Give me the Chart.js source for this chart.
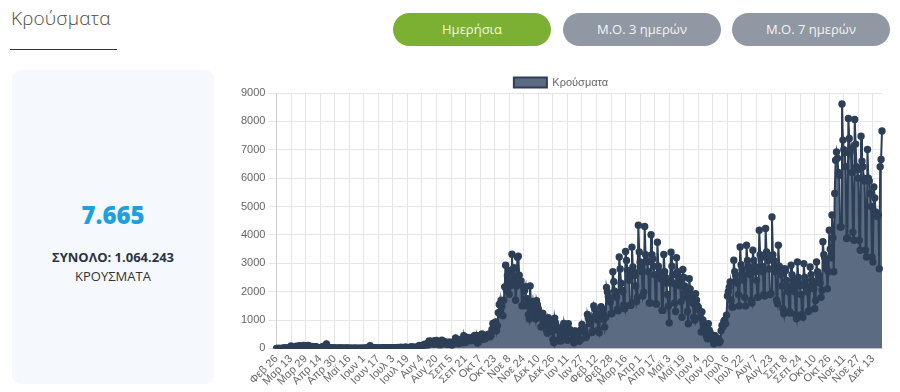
<!DOCTYPE html>
<html lang="el">
<head>
<meta charset="utf-8">
<title>Κρούσματα</title>
<script src="https://cdn.jsdelivr.net/npm/chart.js@4.4.1/dist/chart.umd.min.js"></script>
<style>
    body { margin: 0; width: 900px; height: 392px; background: #fff; font-family: "Open Sans", Arial, sans-serif; overflow: hidden; position: relative; }
    .title { position: absolute; left: 11px; top: 5px; font-size: 19px; font-weight: 300; color: #4a4a4a; letter-spacing: 0.2px; }
    .title-line { position: absolute; left: 10px; top: 49px; width: 107px; height: 1px; background: #333; }
    .btn { position: absolute; top: 13px; height: 33px; width: 158px; border-radius: 17px; color: #f4f4f4; font-size: 13px; line-height: 33px; text-align: center; }
    .btn.active { background: #7cb032; }
    .btn.off { background: #8f98a3; }
    .card { position: absolute; left: 12px; top: 70px; width: 202px; height: 314px; background: #f5f8fc; border-radius: 9px; text-align: center; }
    .card .num { position: absolute; left: 0; right: 0; top: 128px; font-size: 24px; font-weight: 800; color: #1ea0dd; }
    .card .total { position: absolute; left: 0; right: 0; top: 178px; font-size: 13px; font-weight: 700; color: #2b3445; }
    .card .lbl { position: absolute; left: 0; right: 0; top: 197px; font-size: 13px; color: #333; }
    .chart-box { position: absolute; left: 238px; top: 64px; width: 650px; height: 328px; }
</style>
</head>
<body>
<div class="title">Κρούσματα</div>
<div class="title-line"></div>
<div class="btn active" style="left:393px">Ημερήσια</div>
<div class="btn off" style="left:563px">Μ.Ο. 3 ημερών</div>
<div class="btn off" style="left:732px">Μ.Ο. 7 ημερών</div>
<div class="card">
    <div class="num">7.665</div>
    <div class="total">ΣΥΝΟΛΟ: 1.064.243</div>
    <div class="lbl">ΚΡΟΥΣΜΑΤΑ</div>
</div>
<div class="chart-box"><canvas id="casesChart" width="650" height="328"></canvas></div>
<script>
// tick labels, one every 16 days starting 26 Feb 2020
const tickLabels = ['Φεβ 26', 'Μαρ 13', 'Μαρ 29', 'Απρ 14', 'Απρ 30', 'Μαϊ 16', 'Ιουν 1', 'Ιουν 17',
    'Ιουλ 3', 'Ιουλ 19', 'Αυγ 4', 'Αυγ 20', 'Σεπ 5', 'Σεπ 21', 'Οκτ 7', 'Οκτ 23', 'Νοε 8', 'Νοε 24',
    'Δεκ 10', 'Δεκ 26', 'Ιαν 11', 'Ιαν 27', 'Φεβ 12', 'Φεβ 28', 'Μαρ 16', 'Απρ 1', 'Απρ 17', 'Μαϊ 3',
    'Μαϊ 19', 'Ιουν 4', 'Ιουν 20', 'Ιουλ 6', 'Ιουλ 22', 'Αυγ 7', 'Αυγ 23', 'Σεπ 8', 'Σεπ 24', 'Οκτ 10',
    'Οκτ 26', 'Νοε 11', 'Νοε 27', 'Δεκ 13'];
const tickEvery = 16;

// daily cases 26 Feb 2020 - 31 Dec 2020 (rows are Mon..Sun weeks)
const cases2020 = [
    1, 2, 0, 4, 0,
    0, 0, 2, 22, 14, 13, 7,
    7, 16, 10, 9, 91, 38, 10,
    21, 56, 31, 77, 31, 48, 94,
    71, 74, 78, 71, 102, 75, 95,
    60, 73, 102, 82, 64, 60, 71,
    21, 62, 20, 60, 50, 38, 25,
    29, 25, 25, 32, 73, 10, 12,
    17, 156, 16, 10, 11, 30, 12,
    9, 14, 15, 19, 10, 3, 8,
    10, 15, 12, 5, 10, 14, 2,
    4, 8, 15, 10, 10, 3, 8,
    5, 0, 3, 11, 5, 10, 4,
    11, 1, 3, 7, 5, 0, 9,
    1, 8, 15, 7, 5, 6, 5,
    97, 4, 3, 15, 4, 26, 16,
    9, 12, 17, 9, 10, 16, 9,
    10, 26, 29, 11, 8, 24, 14,
    27, 15, 4, 20, 18, 23, 11,
    3, 26, 25, 36, 25, 20, 44,
    28, 19, 15, 21, 50, 25, 16,
    25, 25, 42, 54, 43, 37, 49,
    28, 29, 39, 57, 58, 110, 75,
    44, 110, 75, 124, 153, 121, 151,
    93, 203, 262, 206, 254, 230, 217,
    156, 269, 162, 284, 228, 211, 217,
    116, 198, 293, 250, 221, 239, 168,
    169, 141, 217, 207, 224, 210, 113,
    176, 219, 195, 372, 258, 241, 247,
    169, 202, 297, 338, 217, 453, 241,
    209, 305, 391, 326, 349, 368, 274,
    289, 321, 417, 460, 293, 460, 193,
    212, 372, 435, 467, 508, 326, 430,
    331, 363, 420, 486, 423, 508, 411,
    454, 667, 882, 865, 842, 935, 621,
    800, 1260, 1550, 1210, 1690, 1490, 1150,
    1700, 2170, 2930, 2040, 2560, 2750, 1910,
    2200, 2750, 3320, 2380, 2840, 2840, 1700,
    2200, 3210, 3250, 2580, 2310, 2380, 1500,
    1530, 2150, 2040, 2180, 1500, 1750, 1190,
    1040, 2200, 1530, 1440, 1660, 1360, 1230,
    1040, 1680, 1540, 1400, 1190, 1100, 760,
    1240, 1230, 1020, 820, 940, 630, 540,
    1080, 980, 840, 660, 600, 310, 200,
    1070, 900, 740, 650
];

// daily cases 1 Jan 2021 - 23 Dec 2021
const cases2021 = [
    270, 690, 400,
    260, 760, 600, 880, 640, 540, 330,
    290, 870, 630, 660, 590, 540, 320,
    200, 620, 610, 560, 470, 550, 250,
    290, 670, 850, 760, 710, 600, 380,
    420, 1200, 1060, 950, 880, 1070, 560,
    610, 1500, 1400, 1160, 1100, 1000, 650,
    550, 1230, 1470, 1400, 1200, 1020, 760,
    1090, 2150, 1990, 1830, 1740, 1640, 1220,
    1230, 2700, 2350, 2020, 1900, 1800, 1380,
    1330, 3220, 2800, 2300, 2050, 2000, 1530,
    1400, 3420, 3100, 2750, 2600, 2400, 1520,
    1520, 3570, 2870, 2700, 2570, 2200, 1650,
    1810, 4340, 3400, 3050, 2900, 2700, 1850,
    1980, 4300, 3300, 3100, 3050, 2700, 1600,
    1600, 4010, 3300, 3150, 2900, 2600, 1580,
    1560, 3740, 2900, 2650, 2700, 2450, 1340,
    1340, 3310, 2700, 2500, 2300, 1900, 1500,
    900, 2400, 3390, 2900, 2600, 2300, 1600,
    1300, 3200, 2700, 2550, 2400, 2200, 1650,
    1100, 2780, 2500, 2200, 2000, 1800, 1300,
    870, 2460, 2100, 1900, 1800, 1600, 1100,
    990, 1930, 1700, 1500, 1450, 1350, 1100,
    580, 1290, 1000, 880, 760, 640, 420,
    340, 870, 640, 560, 480, 430, 280,
    170, 460, 400, 380, 350, 330, 200,
    250, 620, 810, 760, 950, 1000, 870,
    1170, 1850, 2000, 2160, 2340, 1700, 1460,
    1460, 3110, 2700, 2600, 2400, 2300, 1900,
    1500, 3575, 2950, 2800, 2600, 2400, 1800,
    1500, 3635, 3100, 2900, 2750, 2600, 1700,
    1600, 3460, 3100, 2900, 2700, 2400, 1800,
    1810, 4165, 3300, 3200, 2900, 2700, 1900,
    1850, 4225, 3400, 3200, 3100, 2800, 1900,
    1930, 4635, 3300, 3100, 2900, 2700, 1700,
    1575, 3635, 2900, 2700, 2600, 2200, 1400,
    1225, 2810, 2750, 2400, 2200, 2000, 1300,
    1250, 2930, 2600, 2400, 2200, 2000, 1200,
    1050, 3050, 2500, 2300, 2200, 1900, 1200,
    1100, 2990, 2500, 2400, 2200, 2000, 1300,
    1340, 2870, 2600, 2400, 2300, 2100, 1400,
    1690, 3050, 2700, 2600, 2500, 2300, 1800,
    2045, 3760, 3300, 3200, 3000, 2800, 2100,
    2700, 4165, 3500, 3200, 4700, 3900, 2700,
    5460, 6630, 6920, 6700, 6200, 6100, 4280,
    4280, 8610, 7340, 7000, 6900, 6400, 3870,
    3900, 8100, 7400, 6900, 7050, 6200, 4100,
    3810, 8070, 7200, 6400, 6300, 6000, 3810,
    3460, 7480, 6600, 6400, 6000, 5900, 3460,
    3220, 7010, 6000, 5900, 5460, 5000, 3220,
    3050, 5690, 5300, 4810, 4700, 4650, 4700,
    2810, 6400, 6660, 7665
];

document.addEventListener('DOMContentLoaded', () => {
    const cases = cases2020.concat(cases2021);
    const labels = cases.map((v, i) => (i % tickEvery === 0 ? tickLabels[i / tickEvery] : ''));

    const ctx = document.getElementById('casesChart').getContext('2d');
    Chart.defaults.font.family = 'Arial, "Liberation Sans", sans-serif';
    Chart.defaults.color = '#666';

    new Chart(ctx, {
        type: 'line',
        data: {
            labels: labels,
            datasets: [{
                label: 'Κρούσματα',
                data: cases,
                fill: true,
                backgroundColor: '#5b6b81',
                borderColor: '#2d3f56',
                borderWidth: 2,
                pointRadius: 2.7,
                pointBackgroundColor: '#2d3f56',
                pointBorderColor: '#2d3f56',
                tension: 0
            }]
        },
        options: {
            responsive: false,
            animation: false,
            layout: { padding: { top: 12, right: 4 } },
            plugins: {
                tooltip: { enabled: false },
                legend: {
                    maxHeight: 17,
                    labels: { boxWidth: 33, boxHeight: 10, padding: 1, font: { size: 11 } }
                }
            },
            scales: {
                x: {
                    grid: { color: '#e6e6e6', drawTicks: false },
                    ticks: {
                        autoSkip: false,
                        minRotation: 45,
                        maxRotation: 45,
                        padding: 4,
                        font: { size: 11 },
                        callback: function (value) {
                            const lab = this.getLabelForValue(value);
                            return lab === '' ? null : lab;
                        }
                    }
                },
                y: {
                    min: 0,
                    max: 9000,
                    grid: { color: '#e6e6e6' },
                    ticks: {
                        stepSize: 1000,
                        font: { size: 11 },
                        callback: (value) => String(value)
                    }
                }
            }
        }
    });
});
</script>
</body>
</html>
